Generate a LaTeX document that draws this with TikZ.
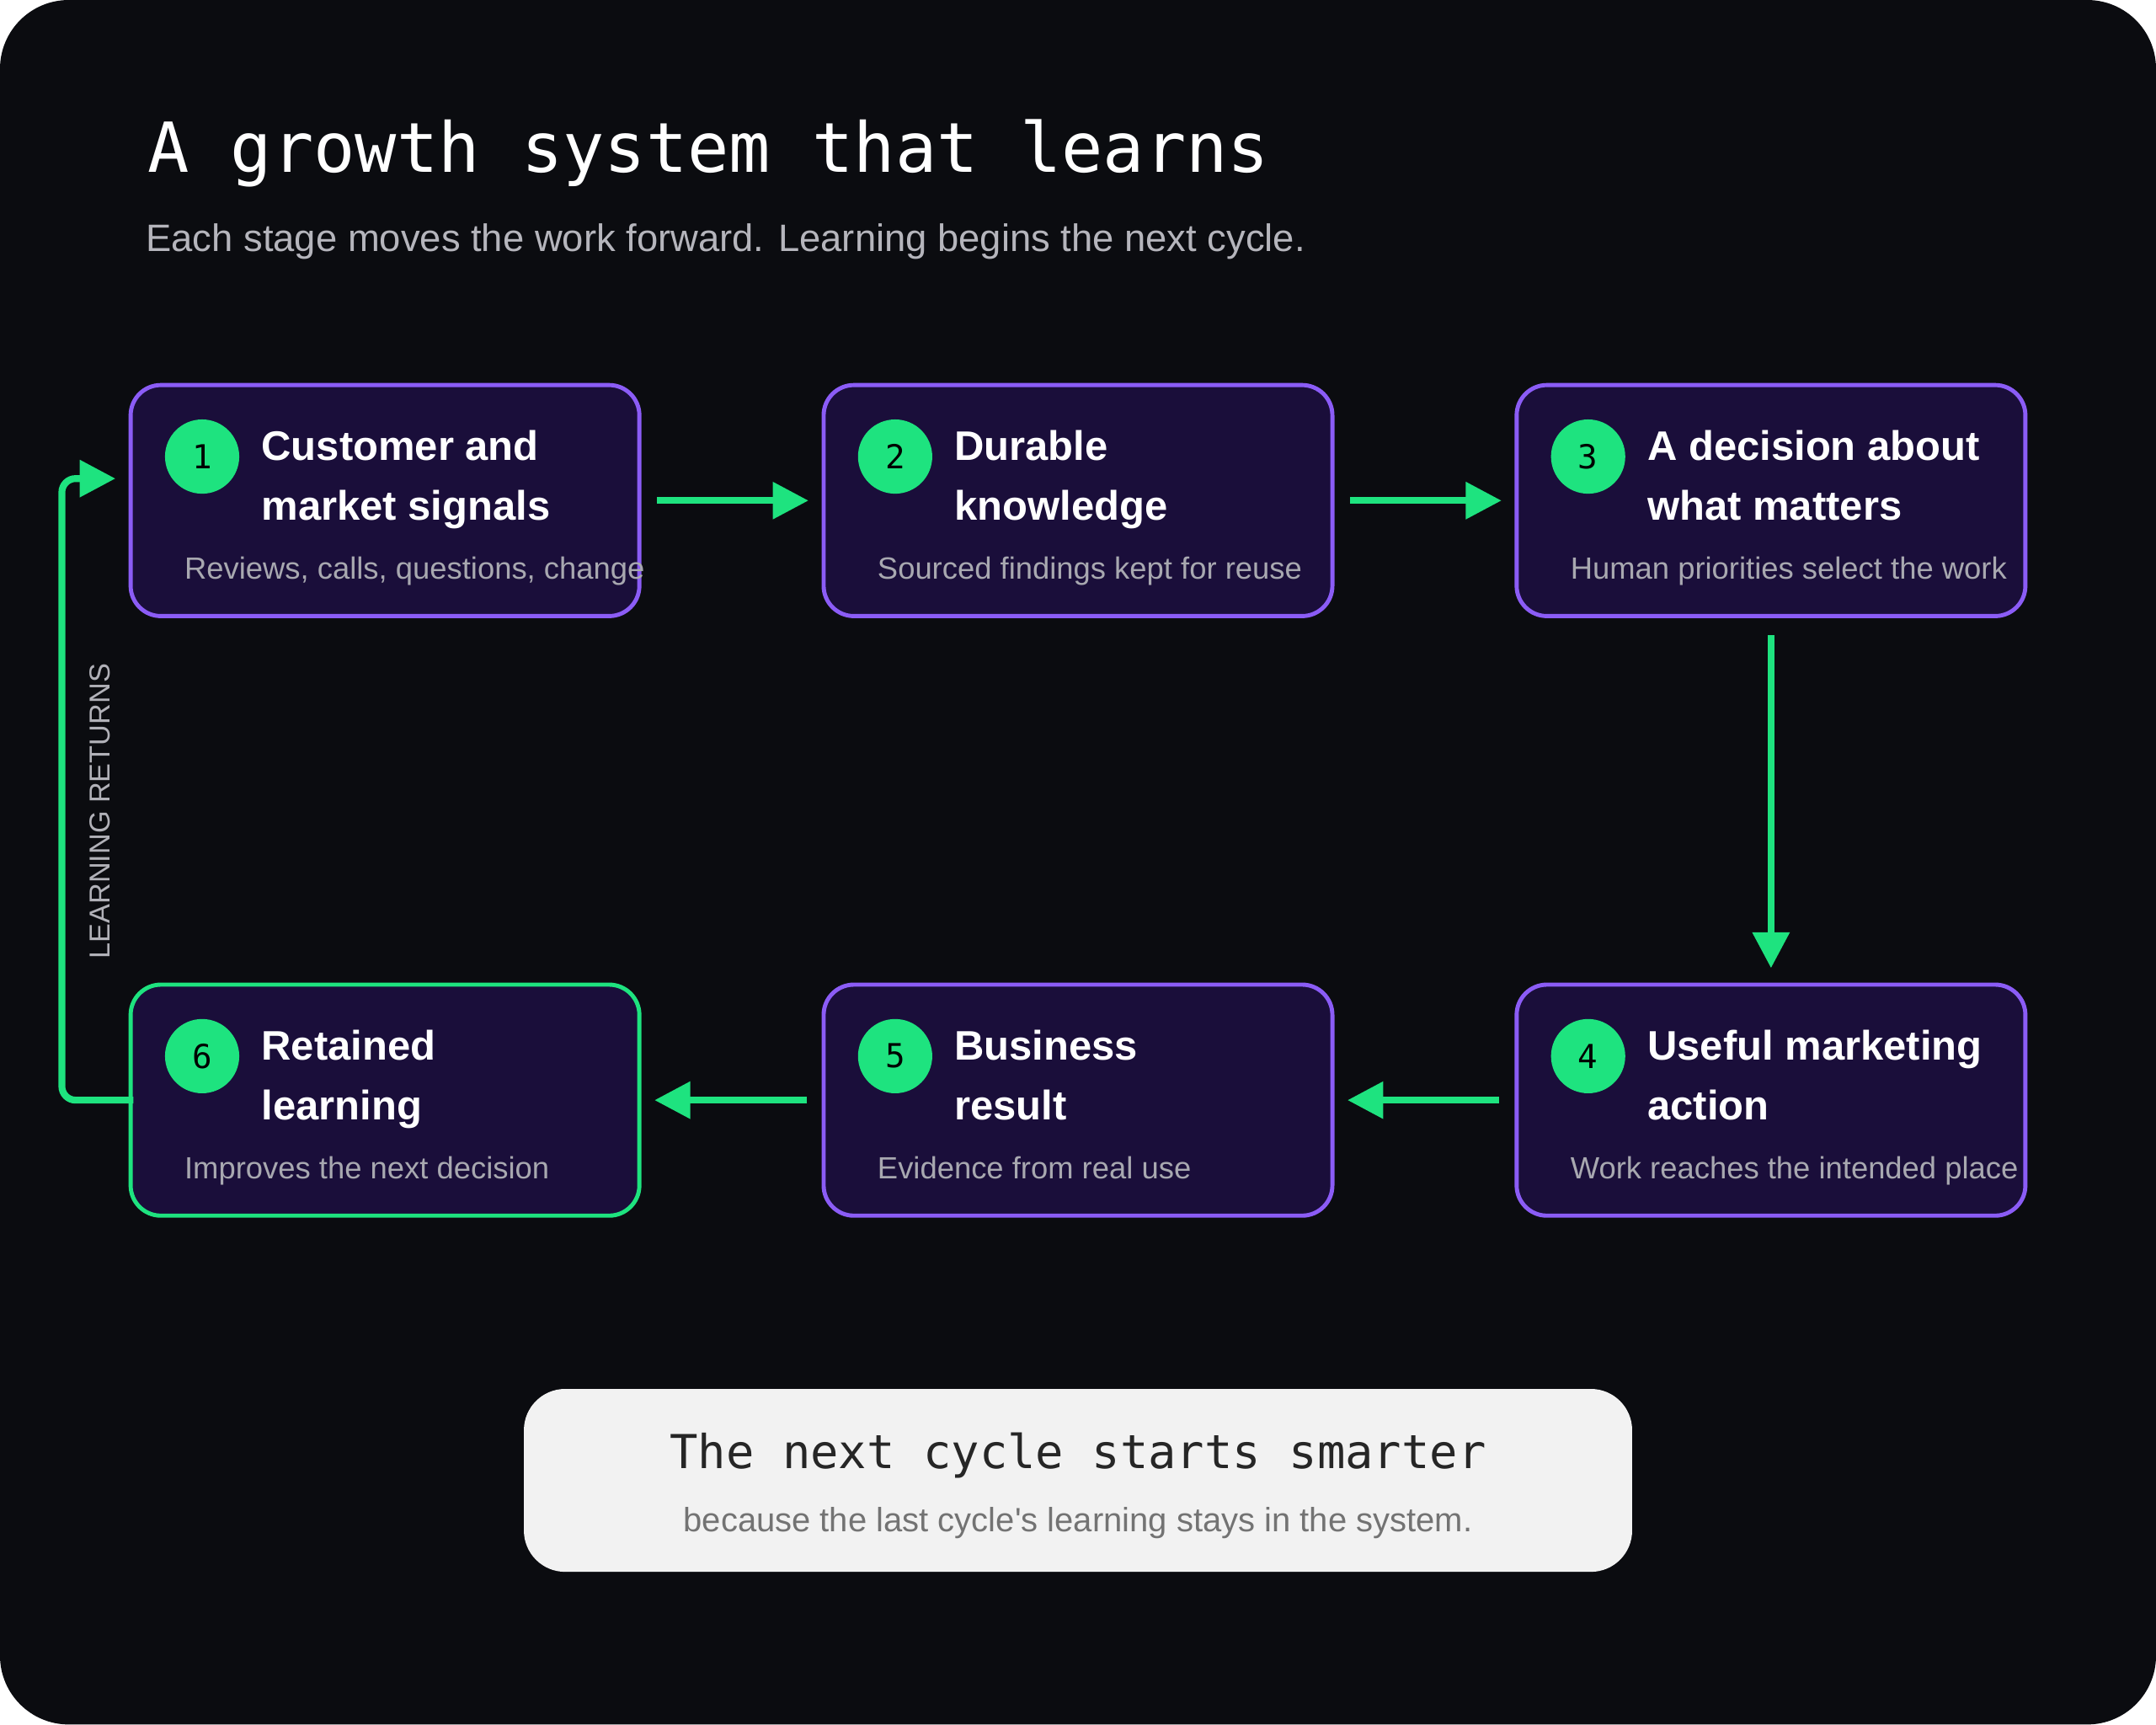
\documentclass[tikz,border=0pt]{standalone}
\usepackage{fontspec}
\setmainfont{Liberation Sans}
\newfontfamily\monof{DejaVu Sans Mono}
\usetikzlibrary{arrows.meta}
\definecolor{bg}{HTML}{0B0C10}
\definecolor{boxf}{HTML}{1A0E3A}
\definecolor{boxb}{HTML}{8B5CF6}
\definecolor{grn}{HTML}{1EE37F}
\definecolor{sub}{HTML}{A8A8B0}
\definecolor{panel}{HTML}{F2F2F2}
\begin{document}
\begin{tikzpicture}[x=1pt,y=-1pt,
  stage/.style={draw=boxb,line width=3pt,fill=boxf,rounded corners=22pt},
  num/.style={circle,fill=grn,minimum size=54pt,inner sep=0pt,font=\monof\fontsize{24}{24}\selectfont,text=black},
  head/.style={anchor=base west,text=white,font=\bfseries\fontsize{30}{43}\selectfont,align=left,inner sep=0pt},
  note/.style={anchor=base west,text=sub,font=\fontsize{22.3}{26}\selectfont,inner sep=0pt},
  flow/.style={draw=grn,line width=5pt,-{Triangle[length=26pt,width=26pt]}}]
\useasboundingbox (0,0) rectangle (1568,1254);
\fill[bg,rounded corners=50pt] (0,0) rectangle (1568,1254);
\node[anchor=base west,text=white,inner sep=0pt,font=\monof\fontsize{50.2}{50}\selectfont] (title) at (107,125) {A growth system that learns};
\node[anchor=base west,text=sub!85,inner sep=0pt,font=\fontsize{27.8}{30}\selectfont] (subt) at (106,183) {Each stage moves the work forward. Learning begins the next cycle.};
% boxes
\newcommand{\stagebox}[7]{%
  \path[stage,#7] (#1,#2) rectangle ++(370,168);
  \node[num] (n#3) at (#1+52,#2+52) {#3};
  \node[head] (h#3) at (#1+95,#2+98) {#4\\#5};
  \node[note] (s#3) at (#1+39,#2+141) {#6};
  \coordinate (b#3) at (#1+185,#2+84);}
\stagebox{95}{280}{1}{Customer and}{market signals}{Reviews, calls, questions, change}{}
\stagebox{599}{280}{2}{Durable}{knowledge}{Sourced findings kept for reuse}{}
\stagebox{1103}{280}{3}{A decision about}{what matters}{Human priorities select the work}{}
\stagebox{1103}{716}{4}{Useful marketing}{action}{Work reaches the intended place}{}
\stagebox{599}{716}{5}{Business}{result}{Evidence from real use}{}
\stagebox{95}{716}{6}{Retained}{learning}{Improves the next decision}{draw=grn}
\coordinate (a1) at (478,364); \coordinate (a2) at (588,364);
\coordinate (a3) at (982,364); \coordinate (a4) at (1092,364);
\coordinate (a5) at (1288,462); \coordinate (a6) at (1288,704);
\coordinate (a7) at (1090,800); \coordinate (a8) at (980,800);
\coordinate (a9) at (587,800); \coordinate (a10) at (476,800);
\coordinate (r0) at (97,800); \coordinate (r1) at (45,800); \coordinate (r2) at (45,348); \coordinate (r3) at (84,348);
\draw[flow] (a1) -- (a2);
\draw[flow] (a3) -- (a4);
\draw[flow] (a5) -- (a6);
\draw[flow] (a7) -- (a8);
\draw[flow] (a9) -- (a10);
\draw[flow,rounded corners=10pt] (r0) -- (r1) -- (r2) -- (r3);
\node[rotate=90,text=sub!90,font=\fontsize{21}{24}\selectfont] (lr) at (73,590) {LEARNING RETURNS};
\path[fill=panel,rounded corners=30pt] (381,1010) rectangle (1187,1143);
\node[anchor=base,inner sep=0pt,text=black!85,font=\monof\fontsize{34}{34}\selectfont] (pt) at (784,1068) {The next cycle starts smarter};
\node[anchor=base,inner sep=0pt,text=black!55,font=\fontsize{24.5}{26}\selectfont] (ps) at (784,1114) {because the last cycle\textquotesingle s learning stays in the system.};
\end{tikzpicture}
\end{document}
